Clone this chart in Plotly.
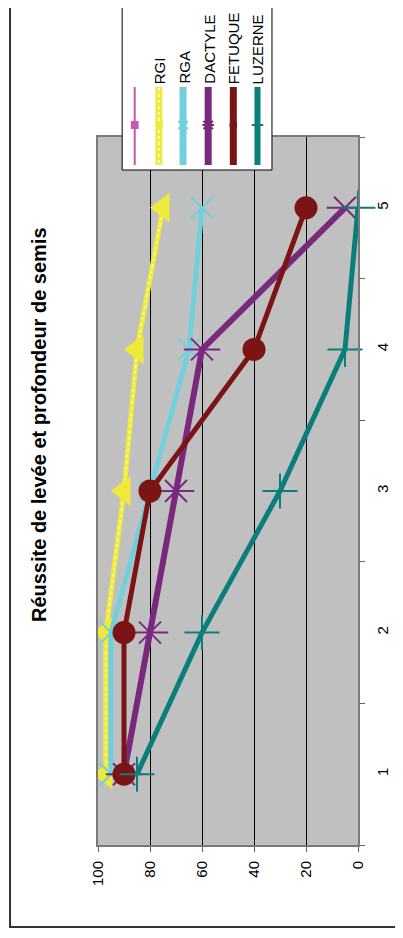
import plotly.graph_objects as go

categories = ["1", "2", "3", "4", "5"]
rgi = [97, 97, 90, 85, 75]
rga = [95, 95, 80, 65, 60]
dactyle = [90, 80, 70, 60, 5]
fetuque = [90, 90, 80, 40, 20]
luzerne = [85, 60, 30, 5, 0]
series_names = ["", "RGI", "RGA", "DACTYLE", "FETUQUE", "LUZERNE"]
value_ticks = [0, 20, 40, 60, 80, 100]
title_text = "Réussite de levée et profondeur de semis"

PINK = "#C458AC"
YELLOW = "#EFEA3A"
YELLOW_LIGHT = "#FBF8B8"
CYAN = "#72D0DC"
PURPLE = "#7A287E"
RED = "#7C1416"
TEAL = "#0A7E7A"

OFF = 8  # default page body margin
W, H = 403 - OFF, 938 - 2 * OFF
L, R, T, B = 98, 367, 137, 845  # plot area in reference pixels


def px(x):
    return (x - L) / (R - L)


def py(y):
    return (B - y) / (B - T)


fig = go.Figure()

# RGI (textured yellow line)
fig.add_trace(go.Scatter(x=rgi, y=categories, mode="lines", name="RGI",
                         line=dict(color=YELLOW, width=5)))
fig.add_trace(go.Scatter(x=rgi, y=categories, mode="lines",
                         line=dict(color=YELLOW_LIGHT, width=1.5, dash="dot"),
                         showlegend=False, hoverinfo="skip"))
fig.add_trace(go.Scatter(x=rgi, y=categories, mode="markers", showlegend=False,
                         marker=dict(symbol="triangle-left", size=26, color=YELLOW)))
# RGA
fig.add_trace(go.Scatter(x=rga, y=categories, mode="lines+markers", name="RGA",
                         line=dict(color=CYAN, width=5),
                         marker=dict(symbol="x-thin-open", size=22, color=CYAN,
                                     line=dict(color=CYAN, width=2))))
# DACTYLE
fig.add_trace(go.Scatter(x=dactyle, y=categories, mode="lines+markers", name="DACTYLE",
                         line=dict(color=PURPLE, width=6),
                         marker=dict(symbol="x-thin-open", size=22, color=PURPLE,
                                     line=dict(color=PURPLE, width=2))))
fig.add_trace(go.Scatter(x=dactyle, y=categories, mode="markers", showlegend=False,
                         marker=dict(symbol="line-ew-open", size=26, color=PURPLE,
                                     line=dict(color=PURPLE, width=2)),
                         hoverinfo="skip"))
# FETUQUE
fig.add_trace(go.Scatter(x=fetuque, y=categories, mode="lines+markers", name="FETUQUE",
                         line=dict(color=RED, width=5),
                         marker=dict(symbol="circle", size=23, color=RED)))
# LUZERNE
fig.add_trace(go.Scatter(x=luzerne, y=categories, mode="lines+markers", name="LUZERNE",
                         line=dict(color=TEAL, width=5),
                         marker=dict(symbol="cross-thin-open", size=25, color=TEAL,
                                     line=dict(color=TEAL, width=2)),
                         cliponaxis=False))

shapes = []
annotations = []

# outer chart border
shapes.append(dict(type="rect", xref="paper", yref="paper",
                   x0=px(7), x1=px(420), y0=py(927), y1=py(-20),
                   line=dict(color="#333333", width=2), fillcolor="rgba(0,0,0,0)",
                   layer="below"))

# legend box
shapes.append(dict(type="rect", xref="paper", yref="paper",
                   x0=px(123), x1=px(278), y0=py(170), y1=py(-20),
                   line=dict(color="#000000", width=1), fillcolor="white",
                   layer="above"))

leg_x = [136, 161, 186, 212, 238, 263]
leg_colors = [PINK, YELLOW, CYAN, PURPLE, RED, TEAL]
leg_widths = [2, 7, 7, 7, 7, 6]
for i, name in enumerate(series_names):
    xc = leg_x[i]
    shapes.append(dict(type="line", xref="paper", yref="paper",
                       x0=px(xc), x1=px(xc), y0=py(87), y1=py(165),
                       line=dict(color=leg_colors[i], width=leg_widths[i]),
                       layer="above"))
    if name:
        annotations.append(dict(text=name, xref="paper", yref="paper",
                                x=px(xc + 1), y=py(85), xanchor="center", yanchor="bottom",
                                textangle=-90, showarrow=False, borderpad=0,
                                font=dict(family="Liberation Sans, Arial", size=15,
                                          color="black")))

# yellow legend texture
shapes.append(dict(type="line", xref="paper", yref="paper",
                   x0=px(161), x1=px(161), y0=py(88), y1=py(164),
                   line=dict(color=YELLOW_LIGHT, width=2, dash="dot"), layer="above"))

# legend markers
my = 125
shapes.append(dict(type="rect", xref="paper", yref="paper",
                   x0=px(132), x1=px(140), y0=py(my + 4), y1=py(my - 4),
                   fillcolor=PINK, line=dict(width=0), layer="above"))
shapes.append(dict(type="path", xref="paper", yref="paper",
                   path=f"M {px(157)},{py(my)} L {px(165)},{py(my-4)} L {px(165)},{py(my+4)} Z",
                   fillcolor=YELLOW, line=dict(width=0), layer="above"))
for xc, col in [(186, CYAN), (212, PURPLE)]:
    shapes.append(dict(type="path", xref="paper", yref="paper",
                       path=(f"M {px(xc-5)},{py(my-4)} L {px(xc+5)},{py(my+4)} "
                             f"M {px(xc-5)},{py(my+4)} L {px(xc+5)},{py(my-4)}"),
                       line=dict(color=col, width=2), layer="above"))
shapes.append(dict(type="line", xref="paper", yref="paper",
                   x0=px(206), x1=px(218), y0=py(my), y1=py(my),
                   line=dict(color=PURPLE, width=2), layer="above"))
shapes.append(dict(type="circle", xref="paper", yref="paper",
                   x0=px(234), x1=px(242), y0=py(my + 4), y1=py(my - 4),
                   fillcolor=RED, line=dict(width=0), layer="above"))
shapes.append(dict(type="line", xref="paper", yref="paper",
                   x0=px(257), x1=px(269), y0=py(my), y1=py(my),
                   line=dict(color=TEAL, width=2), layer="above"))

# title
annotations.append(dict(text="<b>" + title_text + "</b>", xref="paper", yref="paper",
                        x=px(37), y=py(425), xanchor="center", yanchor="middle",
                        textangle=-90, showarrow=False,
                        font=dict(family="Liberation Sans, Arial", size=20, color="black")))

fig.update_layout(
    width=W, height=H,
    margin=dict(l=L - OFF, r=W - (R - OFF), t=T - OFF, b=H - (B - OFF), pad=0),
    paper_bgcolor="white",
    plot_bgcolor="#C0C0C0",
    showlegend=False,
    shapes=shapes,
    annotations=annotations,
    font=dict(family="Liberation Sans, Arial", size=15, color="black"),
    xaxis=dict(range=[100, 0], tickmode="array", tickvals=value_ticks,
               ticktext=[str(v) for v in value_ticks], tickangle=-90,
               showgrid=True, gridcolor="black", gridwidth=1,
               showline=True, linecolor="#7A7A7A", linewidth=2, mirror=True,
               ticks="outside", ticklen=5, tickcolor="#606060",
               zeroline=False, tickfont=dict(size=15), ticklabelstandoff=3),
    yaxis=dict(type="category", categoryorder="array", categoryarray=categories,
               range=[-0.5, 4.5], side="right", tickangle=-90,
               tickson="boundaries", ticks="outside", ticklen=5, tickcolor="#606060",
               showgrid=False, showline=True, linecolor="#7A7A7A", linewidth=2,
               mirror=True, zeroline=False, tickfont=dict(size=15),
               ticklabelstandoff=10),
)

fig.write_html("out.html")
